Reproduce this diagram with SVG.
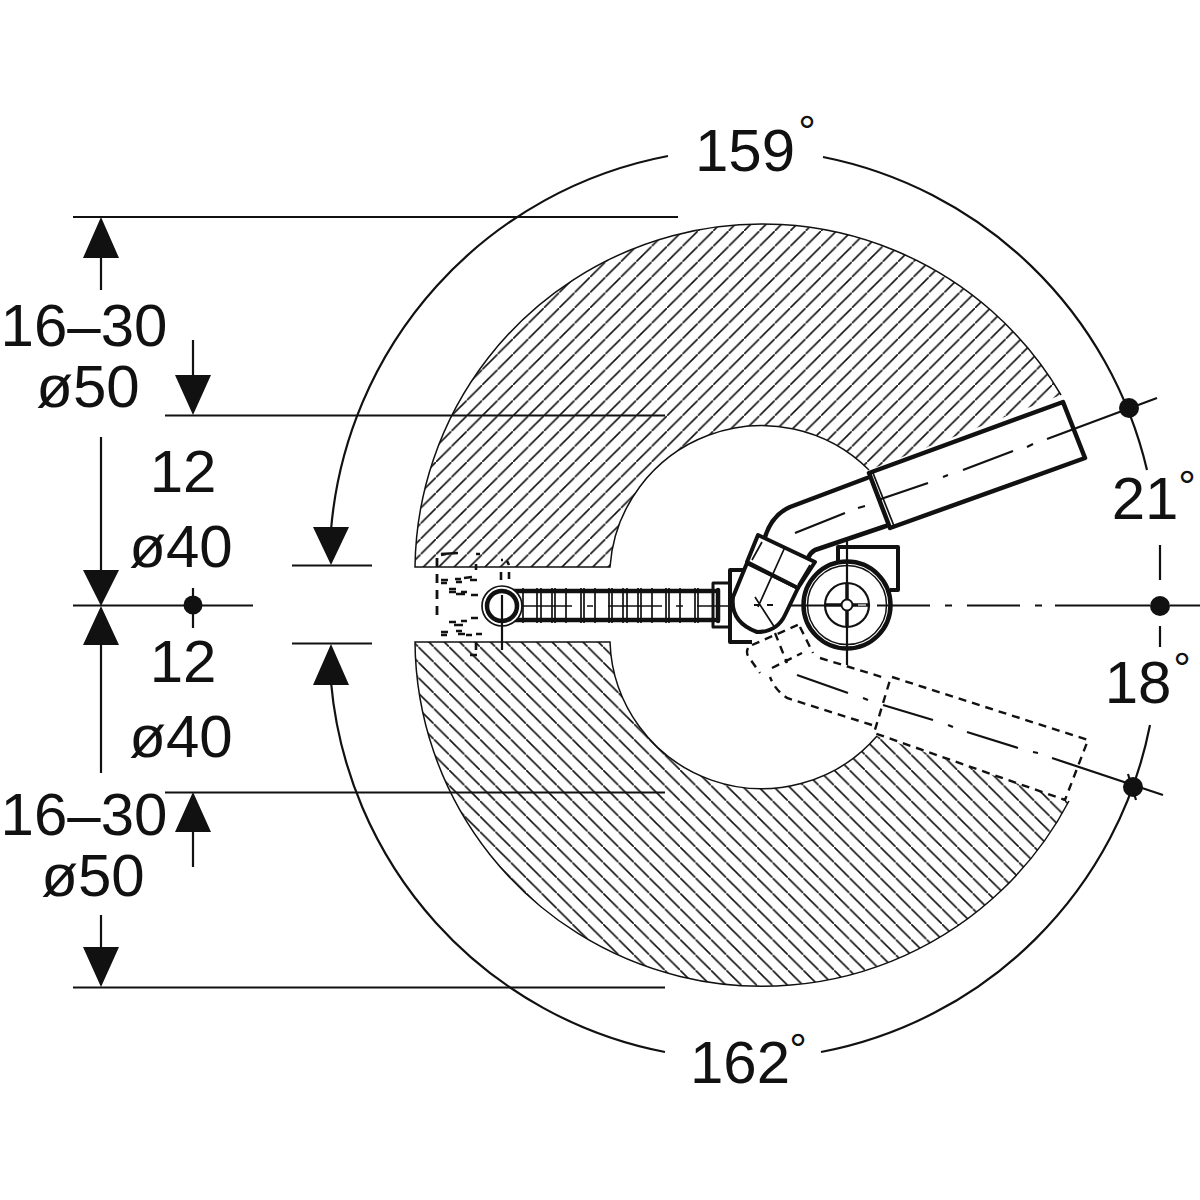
<svg xmlns="http://www.w3.org/2000/svg" width="1200" height="1200" viewBox="0 0 1200 1200">
<style>
text{font-family:"Liberation Sans",Arial,sans-serif;fill:#111;font-size:60px;text-anchor:middle}
.deg{font-size:44px}
.d{fill:none;stroke:#111;stroke-width:2.200}
.a{fill:#111;stroke:none}
.t{fill:none;stroke:#111;stroke-width:4.500;stroke-linejoin:round;stroke-linecap:round}
.m{fill:none;stroke:#111;stroke-width:4;stroke-linejoin:round}
.s{fill:none;stroke:#111;stroke-width:1.700}
.ds{fill:none;stroke:#111;stroke-width:2.400;stroke-dasharray:8 6}
.o{fill:none;stroke:#111;stroke-width:1.500}
</style>
<defs>
<pattern id="hu" patternUnits="userSpaceOnUse" width="15.400" height="15.400" patternTransform="translate(4.800 0)"><path d="M-1 16.400L16.400 -1" stroke="#111" stroke-width="1.600"/></pattern>
<pattern id="hl" patternUnits="userSpaceOnUse" width="15.400" height="15.400" patternTransform="translate(2.500 0)"><path d="M-1 -1L16.400 16.400" stroke="#111" stroke-width="1.600"/></pattern>
</defs>
<rect width="1200" height="1200" fill="#fff"/>
<g id="hatch">
<path d="M415 567A347 347 0 0 1 1061 395L869 470A152 152 0 0 0 610 567Z" fill="url(#hu)"/>
<path d="M415 642A347 347 0 0 0 1069 801L877 736A152 152 0 0 1 610 642Z" fill="url(#hl)"/>
<path class="o" d="M1061 395A347 347 0 0 0 415 567H610A152 152 0 0 1 869 470M1069 801A347 347 0 0 1 415 642H610A152 152 0 0 0 877 736"/>
</g>
<g id="dimensions">
<path class="d" d="M73 217H678M165 415.500H665M73 605.500H253M165 792.500H665M73 987.500H665M292 565.500H372M292 643.500H372"/>
<path class="d" d="M101 258V290M101 437V572M101 640V773M101 915V950M193 340V378M193 830V867M193 588V628"/>
<path class="a" d="M101 217L83 258H119ZM193 415L175 375H211ZM101 606L83 570H119ZM101 606L83 645H119ZM193 792L175 832H211ZM101 987L83 947H119ZM331 565L313 527H349ZM331 644L313 685H349Z"/>
<circle class="a" cx="193" cy="605" r="9.500"/>
<path class="d" d="M668 156A416 416 0 0 0 331 530M823 157A416 416 0 0 1 1147 470M1160 545V580M1160 626V647M1150 725A414 414 0 0 1 821 1052M665 1052A414 414 0 0 1 331 682"/>
<circle class="a" cx="1129" cy="408" r="10"/><circle class="a" cx="1133" cy="787" r="10"/><circle class="a" cx="1160" cy="606" r="10"/>
</g>
<g id="rod">
<path class="t" d="M510 591H715M510 620H715"/>
<path class="s" d="M523 588V623M537 588V623M541 588V623M552 588V623M555 588V623M566 588V623M581 588V623M584 588V623M595 588V623M609 588V623M612 588V623M623 588V623M627 588V623M638 588V623M641 588V623M652 588V623M666 588V623M669 588V623M680 588V623M695 588V623M698 588V623"/>
<path class="s" d="M490 606H572M587 606H593M608 606H662M676 606H683M697 606H740"/>
<circle cx="502" cy="606" r="20" fill="#fff" stroke="#111" stroke-width="1.700"/>
<circle cx="502" cy="606" r="15" fill="#fff" stroke="#111" stroke-width="4.500"/>
<path class="d" d="M502 595V650"/>
<path class="m" style="stroke-width:3" d="M728 583H713V627H728"/>
<path class="t" d="M718 590V621"/>
</g>
<g id="left-dashed">
<path d="M437 558V620" fill="none" stroke="#111" stroke-width="2.800" stroke-dasharray="9 7"/>
<path class="d" style="stroke-width:2.600" d="M441 555L446 554M441 580H448M441 583H447M455 579H461M456 582H462M464 578L472 577M470 580H477M449 589H456M449 592H456M461 592H467M471 595H478M456 594H465M454 625H463M449 622H456M461 621H467M471 618H478M441 632H448M441 635H447M456 631H462M458 634H465M466 635H472M476 634H482M476 564V570M476 642V650M470 655H477M476 554H480M441 554L458 553M501 560H503M507 561L509 565M501 572V580M509 572V579"/>
</g>
<g id="lower-dashed">
<path class="ds" d="M820 658L885 678M872 725L787 698Q775 690 770 677M892 677L1088 740L1065 800L874 733L890 680M752 645L800 624M775 633L787 663M800 627L813 653M772 668L802 653M748 648Q746 652 748 656L760 673"/>
<path class="d" d="M797 675L848 693M863 698L868 700M883 705L933 720M948 725L953 727M967 732L1018 748M1033 752L1038 753M1052 758L1163 795M1128 774L1136 800"/>
</g>
<g id="wheel">
<path class="m" d="M838 565V547H898V590H890"/>
<circle cx="847" cy="605" r="43.500" fill="#fff" stroke="#111" stroke-width="4.500"/>
<circle cx="847" cy="605" r="39.500" fill="none" stroke="#111" stroke-width="1.500"/>
<circle cx="847" cy="605" r="22" fill="none" stroke="#111" stroke-width="2.200"/>
<path d="M847 584V626M826 605H868" fill="none" stroke="#111" stroke-width="3.500"/>
<path d="M858 605H866" fill="none" stroke="#fff" stroke-width="1.200"/>
<circle cx="847" cy="605" r="5.500" fill="#fff" stroke="#111" stroke-width="2"/>
<path class="d" d="M847 540V584M847 626V665M790 605.500H826M877 605.500H930M945 605.500H952M967 605.500H1020M1035 605.500H1042M1055 605.500H1150M1170 605.500H1200"/>
</g>
<g id="elbow">
<path class="m" d="M748 570H730V642H752"/>
<path d="M867 478L790 507Q772 515 765 537L813 562Q816 552 824 548L886 526Z" fill="#fff" stroke="none"/>
<path class="t" d="M867 478L790 507Q772 515 765 537M886 526L815 550Q810 553 808 558"/>
<path d="M747 563L733 597Q730 622 757 632Q777 632 785 615L798 588Z" fill="#fff" stroke="#111" stroke-width="4" stroke-linejoin="round"/>
<path d="M758 535L815 562L798 588L747 562Z" fill="#fff" stroke="#111" stroke-width="4" stroke-linejoin="round"/>
<path class="s" d="M762 542L752 560M810 565L798 585M785 547L758 607M755 597L775 628"/>
<path class="d" d="M754 605H759M767 605H773"/>
<path d="M869 473L1063 402L1085 458L890 528Z" fill="#fff" stroke="#111" stroke-width="4.500" stroke-linejoin="round"/>
<path class="s" d="M873 473L894 526"/>
<path class="d" d="M1157 398L1047 439M1033 444L1027 447M1013 451L963 470M948 475L943 477M928 483L878 500M865 506L858 508M845 513L795 533"/>
</g>
<g id="labels">
<text x="745" y="171">159</text><text class="deg" x="807" y="147">°</text>
<text x="84" y="346">16–30</text><text x="88" y="407">ø50</text>
<text x="183" y="492">12</text><text x="181" y="567">ø40</text>
<text x="183" y="682">12</text><text x="181" y="757">ø40</text>
<text x="84" y="835">16–30</text><text x="93" y="896">ø50</text>
<text x="740" y="1083">162</text><text class="deg" x="798" y="1065">°</text>
<text x="1145" y="519">21</text><text class="deg" x="1187" y="502">°</text>
<text x="1138" y="703">18</text><text class="deg" x="1182" y="684">°</text>
</g>
</svg>
